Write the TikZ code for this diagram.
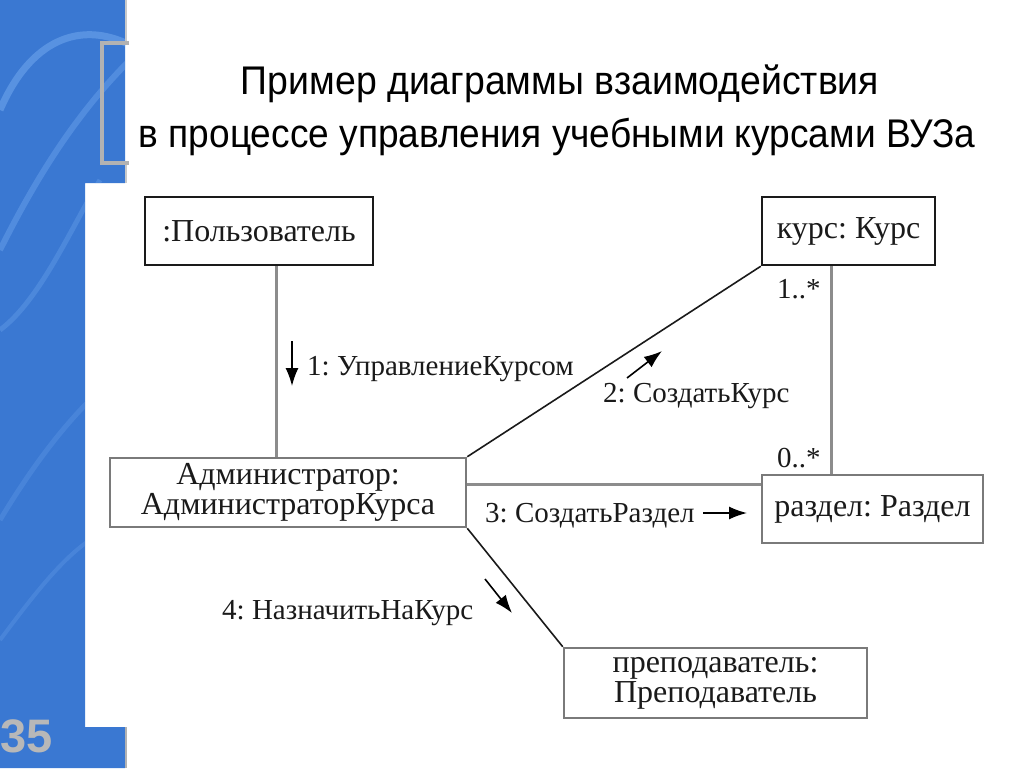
\documentclass[tikz,border=0pt]{standalone}
\usepackage{fontspec}
\setmainfont{Liberation Serif}
\newfontfamily\titlefont{Liberation Sans}
\usetikzlibrary{arrows.meta,calc}
\definecolor{slideblue}{HTML}{3A78D2}
\definecolor{streak}{HTML}{7DB2F5}
\definecolor{bracketgray}{HTML}{B2B2B2}
\definecolor{boxgray}{HTML}{7A7A7A}
\definecolor{linegray}{HTML}{8C8C8C}
\definecolor{inkk}{HTML}{1A1A1A}
\definecolor{numgray}{HTML}{B8B8B8}
\frenchspacing
\begin{document}
\begin{tikzpicture}[x=1pt,y=-1pt,
  obj/.style={draw=inkk, line width=2.5pt, fill=white, inner sep=0pt, align=center,
    font=\fontsize{32}{30}\selectfont, text=inkk},
  objg/.style={obj, draw=boxgray},
  lbl/.style={inner sep=0pt, font=\fontsize{29}{29}\selectfont, text=inkk},
  msg/.style={-{Latex[length=18pt,width=13pt]}, line width=1.6pt, draw=black},
  thickline/.style={draw=linegray, line width=3pt},
  thinline/.style={draw=inkk, line width=1.6pt},
  ttl/.style={inner sep=0pt, anchor=base, font=\titlefont\fontsize{40}{40}\selectfont, text=black}
]
\useasboundingbox (0,0) rectangle (1024,768);
\fill[white] (0,0) rectangle (1024,768);
% blue side strip
\path[fill=slideblue] (0,0) -- (125,0) -- (125,183) -- (85,183) -- (85,727) -- (125,727) -- (125,768) -- (0,768) -- cycle;
\begin{scope}
  \clip (0,0) -- (125,0) -- (125,183) -- (85,183) -- (85,727) -- (125,727) -- (125,768) -- (0,768) -- cycle;
  \draw[streak, opacity=0.45, line width=7pt] (0,110) .. controls (30,40) and (80,20) .. (130,45);
  \draw[streak, opacity=0.35, line width=6pt] (0,250) .. controls (40,170) and (80,110) .. (130,60);
  \draw[streak, opacity=0.28, line width=5pt] (0,330) .. controls (40,300) and (70,230) .. (100,180);
  \draw[streak, opacity=0.22, line width=5pt] (0,520) .. controls (30,470) and (60,430) .. (90,400);
  \draw[streak, opacity=0.22, line width=4pt] (0,640) .. controls (30,600) and (60,560) .. (90,540);
\end{scope}
\draw[bracketgray!70, line width=2.5pt] (126,0) -- (126,43);
\draw[bracketgray!70, line width=2.5pt] (126,163) -- (126,183);
\draw[bracketgray, line width=2.5pt] (126,727) -- (126,768);
% title bracket
\draw[bracketgray, line width=4pt] (129,43) -- (102,43) -- (102,163) -- (129,163);
% slide number
\node[anchor=base west, inner sep=0pt, font=\titlefont\bfseries\fontsize{47}{47}\selectfont, text=numgray] (num) at (0,752) {35};
% title
\node[ttl] (title1) at (560,94) {\scalebox{0.935}[1]{Пример диаграммы взаимодействия}};
\node[ttl] (title2) at (557,147) {\scalebox{0.927}[1]{в процессе управления учебными курсами ВУЗа}};

% objects
\node[obj, minimum width=228pt, minimum height=68pt] (user) at (259,231) {:Пользователь};
\node[obj, minimum width=173pt, minimum height=68pt] (course) at (848.5,231) {курс: Курс};
\node[objg, minimum width=356pt, minimum height=69pt] (admin) at (288,492.5) {Администратор:\\АдминистраторКурса};
\node[objg, minimum width=221pt, minimum height=68pt] (section) at (872.5,509) {раздел: Раздел};
\node[objg, minimum width=303pt, minimum height=70pt] (teacher) at (715.5,683) {преподаватель:\\Преподаватель};

% links
\coordinate (ux) at (276,0);
\coordinate (cx) at (831,0);
\coordinate (sy) at (0,484);
\draw[thickline] (user.south -| ux) -- (admin.north -| ux);
\draw[thinline] (admin.north east) -- (course.south west);
\draw[thickline] (admin.east |- sy) -- (section.west |- sy);
\draw[thickline] (course.south -| cx) -- (section.north -| cx);
\draw[thinline] (admin.south east) -- (teacher.north west);

% multiplicities
\node[lbl, anchor=base west] (m1) at (777,298) {1..*};
\node[lbl, anchor=base west] (m2) at (777,467) {0..*};

% messages
\coordinate (a1s) at (292,341); \coordinate (a1e) at (292,386);
\coordinate (a2s) at (627,378); \coordinate (a2e) at (662,351);
\coordinate (a3s) at (703,513); \coordinate (a3e) at (747,513);
\coordinate (a4s) at (485,579); \coordinate (a4e) at (512,613);
\draw[msg] (a1s) -- (a1e);
\draw[msg] (a2s) -- (a2e);
\draw[msg] (a3s) -- (a3e);
\draw[msg] (a4s) -- (a4e);
\node[lbl, anchor=base west] (l1) at (307,375) {1: УправлениеКурсом};
\node[lbl, anchor=base west] (l2) at (603,402) {2: СоздатьКурс};
\node[lbl, anchor=base west] (l3) at (485,522) {3: СоздатьРаздел};
\node[lbl, anchor=base west] (l4) at (222,619) {4: НазначитьНаКурс};
\end{tikzpicture}
\end{document}
